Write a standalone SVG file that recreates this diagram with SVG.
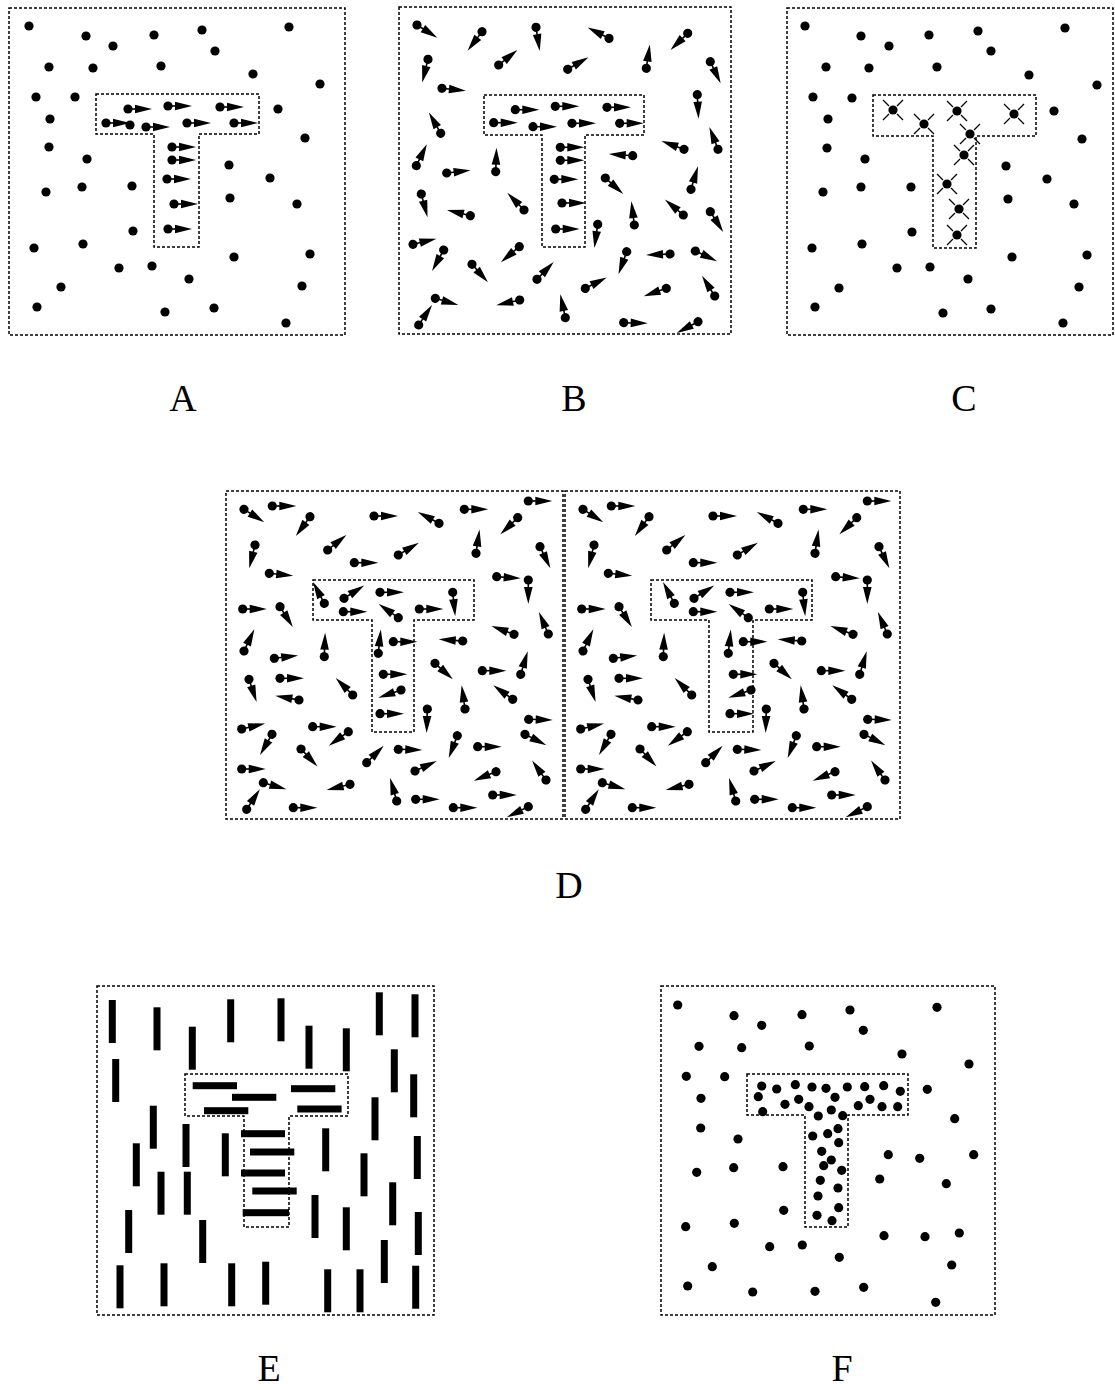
<svg xmlns="http://www.w3.org/2000/svg" width="1115" height="1390" viewBox="0 0 1115 1390">
<style>
.fr{fill:none;stroke:#000;stroke-width:1.5;stroke-dasharray:3 2}
.lb{font-family:"Liberation Serif","DejaVu Serif",serif;font-size:38px;text-anchor:middle;fill:#000}
.bar{fill:#000}
</style>
<defs>
<circle id="d" r="4.6" fill="#000"/>
<g id="ar"><circle r="4.6" fill="#000"/><line x1="0" y1="0" x2="9" y2="0" stroke="#000" stroke-width="1.6"/><polygon points="7,-4.3 24,0 7,4.3" fill="#000"/></g>
<g id="x"><circle r="4.6" fill="#000"/><path d="M4,-4L10,-10M-4,-4L-10,-10M4,4L10,10M-4,4L-10,10" stroke="#000" stroke-width="1.3"/></g>
</defs>
<rect width="1115" height="1390" fill="#fff"/>

<!-- Panel A -->
<g id="panelA">
<rect class="fr" x="9" y="8" width="336" height="327"/>
<path class="fr" d="M96,94H259V134H199V247H154V134H96Z"/>
<g>
<use href="#d" x="29" y="26"/><use href="#d" x="86" y="36"/><use href="#d" x="113" y="46"/><use href="#d" x="154" y="35"/><use href="#d" x="202" y="30"/><use href="#d" x="289" y="27"/><use href="#d" x="215" y="51"/><use href="#d" x="49" y="67"/><use href="#d" x="93" y="68"/><use href="#d" x="161" y="66"/><use href="#d" x="253" y="74"/><use href="#d" x="320" y="84"/><use href="#d" x="36" y="97"/><use href="#d" x="75" y="97"/><use href="#d" x="50" y="119"/><use href="#d" x="278" y="109"/><use href="#d" x="305" y="138"/><use href="#d" x="49" y="147"/><use href="#d" x="87" y="159"/><use href="#d" x="229" y="165"/><use href="#d" x="270" y="178"/><use href="#d" x="46" y="192"/><use href="#d" x="82" y="187"/><use href="#d" x="132" y="186"/><use href="#d" x="230" y="198"/><use href="#d" x="297" y="204"/><use href="#d" x="133" y="231"/><use href="#d" x="34" y="248"/><use href="#d" x="83" y="244"/><use href="#d" x="234" y="257"/><use href="#d" x="310" y="254"/><use href="#d" x="119" y="268"/><use href="#d" x="152" y="266"/><use href="#d" x="189" y="279"/><use href="#d" x="61" y="287"/><use href="#d" x="302" y="286"/><use href="#d" x="37" y="307"/><use href="#d" x="165" y="312"/><use href="#d" x="214" y="308"/><use href="#d" x="286" y="323"/>
<use href="#d" x="130" y="125"/>
<use href="#ar" x="128" y="109"/><use href="#ar" x="168" y="106"/><use href="#ar" x="220" y="107"/><use href="#ar" x="106" y="123"/><use href="#ar" x="146" y="127"/><use href="#ar" x="187" y="123"/><use href="#ar" x="234" y="123"/><use href="#ar" x="172" y="147"/><use href="#ar" x="172" y="160"/><use href="#ar" x="167" y="179"/><use href="#ar" x="174" y="204"/><use href="#ar" x="168" y="229"/>
</g>
<text class="lb" x="183" y="411">A</text>
</g>

<!-- Panel B -->
<g id="panelB">
<rect class="fr" x="399" y="7" width="332" height="327"/>
<path class="fr" d="M484,95H644V135H585V247H542V135H484Z"/>
<g>
<use href="#ar" transform="translate(417,25) rotate(32)"/>
<use href="#ar" transform="translate(482,31.7) rotate(127)"/>
<use href="#ar" transform="translate(536,27.3) rotate(81)"/>
<use href="#ar" transform="translate(609,38.3) rotate(-153)"/>
<use href="#ar" transform="translate(687.7,33.3) rotate(136)"/>
<use href="#ar" transform="translate(498.7,65) rotate(-39)"/>
<use href="#ar" transform="translate(567.7,69.3) rotate(-30)"/>
<use href="#ar" transform="translate(646.3,68.3) rotate(-81.5)"/>
<use href="#ar" transform="translate(710.3,61.7) rotate(64.5)"/>
<use href="#ar" transform="translate(428,59.3) rotate(104)"/>
<use href="#ar" transform="translate(442,88.3) rotate(6)"/>
<use href="#ar" transform="translate(697.3,94.7) rotate(87)"/>
<use href="#ar" transform="translate(440.7,133.3) rotate(-119.5)"/>
<use href="#ar" transform="translate(718,149.3) rotate(-111)"/>
<use href="#ar" transform="translate(684,149.3) rotate(-160)"/>
<use href="#ar" transform="translate(632.7,155.7) rotate(-176)"/>
<use href="#ar" transform="translate(416.3,165.7) rotate(-64)"/>
<use href="#ar" transform="translate(495.7,171.7) rotate(-88)"/>
<use href="#ar" transform="translate(446.7,173) rotate(-6.4)"/>
<use href="#ar" transform="translate(605.3,178) rotate(41.5)"/>
<use href="#ar" transform="translate(691,189.3) rotate(-73)"/>
<use href="#ar" transform="translate(421.3,194) rotate(75)"/>
<use href="#ar" transform="translate(524,210) rotate(-134)"/>
<use href="#ar" transform="translate(470.3,215.7) rotate(-166)"/>
<use href="#ar" transform="translate(634.3,225) rotate(-97)"/>
<use href="#ar" transform="translate(683.3,215) rotate(-140)"/>
<use href="#ar" transform="translate(710.3,211.7) rotate(57.6)"/>
<use href="#ar" transform="translate(597.7,224.3) rotate(98)"/>
<use href="#ar" transform="translate(413,244.3) rotate(-13.4)"/>
<use href="#ar" transform="translate(443.7,250) rotate(119)"/>
<use href="#ar" transform="translate(519.3,246.7) rotate(140)"/>
<use href="#ar" transform="translate(472,264.3) rotate(48.4)"/>
<use href="#ar" transform="translate(626.7,251.7) rotate(110)"/>
<use href="#ar" transform="translate(670,254) rotate(177.5)"/>
<use href="#ar" transform="translate(695.3,251) rotate(25)"/>
<use href="#ar" transform="translate(537,279.3) rotate(-46)"/>
<use href="#ar" transform="translate(585.3,288.3) rotate(-27)"/>
<use href="#ar" transform="translate(666.3,288.3) rotate(160.5)"/>
<use href="#ar" transform="translate(714.7,296) rotate(-122)"/>
<use href="#ar" transform="translate(435.3,298.3) rotate(16.4)"/>
<use href="#ar" transform="translate(519.7,300) rotate(167.4)"/>
<use href="#ar" transform="translate(565.3,317.7) rotate(-102)"/>
<use href="#ar" transform="translate(418.7,325) rotate(-56.3)"/>
<use href="#ar" transform="translate(623.7,322.7) rotate(1.6)"/>
<use href="#ar" transform="translate(698,321.7) rotate(152)"/>
<use href="#ar" x="515.3" y="109.7"/><use href="#ar" x="555.3" y="106.3"/><use href="#ar" x="607" y="107.3"/><use href="#ar" x="493.7" y="122.7"/><use href="#ar" x="533" y="126.7"/><use href="#ar" x="572" y="123.3"/><use href="#ar" x="619.7" y="123.3"/><use href="#ar" x="560.3" y="147.3"/><use href="#ar" x="560.3" y="160.3"/><use href="#ar" x="554.3" y="179.3"/><use href="#ar" x="562" y="203"/><use href="#ar" x="555.7" y="229"/>
</g>
<text class="lb" x="574" y="411">B</text>
</g>

<!-- Panel C -->
<g id="panelC">
<rect class="fr" x="787" y="8" width="326" height="327"/>
<path class="fr" d="M873,95H1036V136H976V248H933V136H873Z"/>
<g>
<use href="#d" x="805" y="26"/><use href="#d" x="861" y="36"/><use href="#d" x="889" y="46"/><use href="#d" x="929" y="35"/><use href="#d" x="978" y="31"/><use href="#d" x="1065" y="28"/><use href="#d" x="991" y="51"/><use href="#d" x="826" y="67"/><use href="#d" x="869" y="68"/><use href="#d" x="937" y="67"/><use href="#d" x="1029" y="75"/><use href="#d" x="1097" y="85"/><use href="#d" x="813" y="97"/><use href="#d" x="852" y="98"/><use href="#d" x="828" y="119"/><use href="#d" x="1054" y="111"/><use href="#d" x="1082" y="139"/><use href="#d" x="827" y="148"/><use href="#d" x="865" y="159"/><use href="#d" x="1006" y="166"/><use href="#d" x="1047" y="179"/><use href="#d" x="823" y="192"/><use href="#d" x="861" y="187"/><use href="#d" x="911" y="187"/><use href="#d" x="1008" y="199"/><use href="#d" x="1074" y="204"/><use href="#d" x="912" y="232"/><use href="#d" x="812" y="248"/><use href="#d" x="862" y="244"/><use href="#d" x="1012" y="257"/><use href="#d" x="1087" y="255"/><use href="#d" x="897" y="268"/><use href="#d" x="930" y="267"/><use href="#d" x="968" y="279"/><use href="#d" x="839" y="288"/><use href="#d" x="1079" y="287"/><use href="#d" x="815" y="307"/><use href="#d" x="943" y="313"/><use href="#d" x="991" y="309"/><use href="#d" x="1063" y="323"/>
<use href="#x" x="893" y="110"/><use href="#x" x="924" y="124"/><use href="#x" x="957" y="111"/><use href="#x" x="1014" y="114"/><use href="#x" x="970" y="134"/><use href="#x" x="964" y="155"/><use href="#x" x="947" y="184"/><use href="#x" x="959" y="209"/><use href="#x" x="957" y="235"/>
</g>
<text class="lb" x="964" y="411">C</text>
</g>

<!-- Panel D -->
<g id="panelD">
<rect class="fr" x="226" y="491" width="337" height="328"/>
<rect class="fr" x="565" y="491" width="335" height="328"/>
<path class="fr" d="M313,580H474V620H414V732H372V620H313Z"/>
<path class="fr" d="M651,580H812V620H753V732H709V620H651Z"/>
<g id="dout">
<use href="#ar" transform="translate(244,509.3) rotate(32.5)"/>
<use href="#ar" transform="translate(272.3,506) rotate(0)"/>
<use href="#ar" transform="translate(310,516.7) rotate(126)"/>
<use href="#ar" transform="translate(374,516) rotate(0)"/>
<use href="#ar" transform="translate(439,523.3) rotate(-152)"/>
<use href="#ar" transform="translate(464.3,509.3) rotate(0)"/>
<use href="#ar" transform="translate(517.7,517.7) rotate(136)"/>
<use href="#ar" transform="translate(528.3,501) rotate(0)"/>
<use href="#ar" transform="translate(255,545) rotate(104)"/>
<use href="#ar" transform="translate(327.7,550) rotate(-39)"/>
<use href="#ar" transform="translate(398.3,555) rotate(-31)"/>
<use href="#ar" transform="translate(476,553.3) rotate(-81.5)"/>
<use href="#ar" transform="translate(540,546.7) rotate(64.5)"/>
<use href="#ar" transform="translate(354.3,562.7) rotate(0)"/>
<use href="#ar" transform="translate(269.3,573.3) rotate(5.7)"/>
<use href="#ar" transform="translate(496.7,576.7) rotate(4)"/>
<use href="#ar" transform="translate(528.3,580) rotate(90)"/>
<use href="#ar" transform="translate(242.7,609) rotate(0)"/>
<use href="#ar" transform="translate(280,606.7) rotate(57.7)"/>
<use href="#ar" transform="translate(548.3,634) rotate(-113)"/>
<use href="#ar" transform="translate(514,634.3) rotate(-160)"/>
<use href="#ar" transform="translate(462.7,641) rotate(-176)"/>
<use href="#ar" transform="translate(244,651) rotate(-64.5)"/>
<use href="#ar" transform="translate(324.3,656.7) rotate(-88)"/>
<use href="#ar" transform="translate(274.3,658.3) rotate(-6.5)"/>
<use href="#ar" transform="translate(435,663.3) rotate(42)"/>
<use href="#ar" transform="translate(482.3,670.7) rotate(0)"/>
<use href="#ar" transform="translate(520.7,674.3) rotate(-73)"/>
<use href="#ar" transform="translate(249,679.3) rotate(71.6)"/>
<use href="#ar" transform="translate(280,678.3) rotate(0)"/>
<use href="#ar" transform="translate(352.7,695) rotate(-135)"/>
<use href="#ar" transform="translate(299,700) rotate(-169.5)"/>
<use href="#ar" transform="translate(465,709) rotate(-98)"/>
<use href="#ar" transform="translate(512.7,699.3) rotate(-144)"/>
<use href="#ar" transform="translate(427.3,709) rotate(91.6)"/>
<use href="#ar" transform="translate(241.7,729) rotate(-13)"/>
<use href="#ar" transform="translate(312.7,726.7) rotate(0)"/>
<use href="#ar" transform="translate(272,734.3) rotate(120)"/>
<use href="#ar" transform="translate(348.3,731.7) rotate(144)"/>
<use href="#ar" transform="translate(301,749) rotate(46.8)"/>
<use href="#ar" transform="translate(528.7,719.3) rotate(1.7)"/>
<use href="#ar" transform="translate(457.3,735.7) rotate(111)"/>
<use href="#ar" transform="translate(477.7,746.7) rotate(0)"/>
<use href="#ar" transform="translate(398.3,749.3) rotate(1.6)"/>
<use href="#ar" transform="translate(525,734.3) rotate(27)"/>
<use href="#ar" transform="translate(366.7,762.7) rotate(-45)"/>
<use href="#ar" transform="translate(415,771) rotate(-24.7)"/>
<use href="#ar" transform="translate(241.7,769) rotate(0)"/>
<use href="#ar" transform="translate(263.3,782.7) rotate(16)"/>
<use href="#ar" transform="translate(350,784.3) rotate(166)"/>
<use href="#ar" transform="translate(496,771.7) rotate(158)"/>
<use href="#ar" transform="translate(546,780) rotate(-125.6)"/>
<use href="#ar" transform="translate(396.7,801) rotate(-106)"/>
<use href="#ar" transform="translate(415.7,799.3) rotate(0)"/>
<use href="#ar" transform="translate(492.7,795) rotate(0)"/>
<use href="#ar" transform="translate(246.7,809.3) rotate(-56.8)"/>
<use href="#ar" transform="translate(293.3,807.7) rotate(0)"/>
<use href="#ar" transform="translate(453.3,807.7) rotate(0)"/>
<use href="#ar" transform="translate(528.3,806.7) rotate(154)"/>
</g>
<use href="#dout" transform="translate(339,0)"/>
<g id="dinL">
<use href="#ar" transform="translate(324.3,603.3) rotate(-118)"/>
<use href="#ar" transform="translate(344,598.3) rotate(-32.5)"/>
<use href="#ar" transform="translate(380,592.3) rotate(0)"/>
<use href="#ar" transform="translate(452.7,592.3) rotate(84)"/>
<use href="#ar" transform="translate(343.3,611.7) rotate(0)"/>
<use href="#ar" transform="translate(398.3,617.7) rotate(-145)"/>
<use href="#ar" transform="translate(419.3,609) rotate(0)"/>
<use href="#ar" transform="translate(378.3,653.3) rotate(-84)"/>
<use href="#ar" transform="translate(393.3,641.7) rotate(0)"/>
<use href="#ar" transform="translate(383.3,674.3) rotate(0)"/>
<use href="#ar" transform="translate(401,690) rotate(161)"/>
<use href="#ar" transform="translate(380,713.7) rotate(0)"/>
</g>
<use href="#dinL" transform="translate(350,0)"/>
<text class="lb" x="569" y="898">D</text>
</g>

<!-- Panel E -->
<g id="panelE">
<rect class="fr" x="97" y="986" width="337" height="329"/>
<path class="fr" d="M185,1074H348V1116H289V1227H244V1116H185Z"/>
<g class="bar">
<rect x="108.8" y="1000" width="7" height="43"/>
<rect x="153.5" y="1007.3" width="7" height="43"/>
<rect x="188.8" y="1026.7" width="7" height="43"/>
<rect x="227.2" y="999.3" width="7" height="43"/>
<rect x="277.5" y="998.3" width="7" height="43"/>
<rect x="305.5" y="1025.7" width="7" height="43"/>
<rect x="342.8" y="1028.3" width="7" height="43"/>
<rect x="375.8" y="992.3" width="7" height="43"/>
<rect x="411.5" y="994.3" width="7" height="43"/>
<rect x="112.2" y="1059" width="7" height="43"/>
<rect x="390.8" y="1049.3" width="7" height="43"/>
<rect x="410.2" y="1074.3" width="7" height="43"/>
<rect x="149.8" y="1105.7" width="7" height="43"/>
<rect x="182.5" y="1124" width="7" height="43"/>
<rect x="221.8" y="1133.3" width="7" height="43"/>
<rect x="371.5" y="1097.3" width="7" height="43"/>
<rect x="132.8" y="1143.3" width="7" height="43"/>
<rect x="322.2" y="1128.3" width="7" height="43"/>
<rect x="413.8" y="1136" width="7" height="43"/>
<rect x="157.5" y="1171.7" width="7" height="43"/>
<rect x="183.8" y="1171.7" width="7" height="43"/>
<rect x="360.5" y="1153.3" width="7" height="43"/>
<rect x="389.2" y="1182.3" width="7" height="43"/>
<rect x="125.2" y="1210" width="7" height="43"/>
<rect x="199.2" y="1220" width="7" height="43"/>
<rect x="311.5" y="1195" width="7" height="43"/>
<rect x="342.8" y="1207.3" width="7" height="43"/>
<rect x="414.8" y="1212" width="7" height="43"/>
<rect x="380.8" y="1240" width="7" height="43"/>
<rect x="116.5" y="1265.3" width="7" height="43"/>
<rect x="160.5" y="1263.3" width="7" height="43"/>
<rect x="228.2" y="1263.3" width="7" height="43"/>
<rect x="262.2" y="1261.7" width="7" height="43"/>
<rect x="324.2" y="1269.3" width="7" height="43"/>
<rect x="356.5" y="1269.3" width="7" height="43"/>
<rect x="412.2" y="1265.7" width="7" height="43"/>
<rect x="192.7" y="1082.2" width="44.3" height="7"/>
<rect x="291" y="1085.2" width="44.3" height="7"/>
<rect x="232" y="1093.8" width="44.3" height="7"/>
<rect x="204" y="1107.2" width="44.3" height="7"/>
<rect x="297.3" y="1105.5" width="44.3" height="7"/>
<rect x="241" y="1130.2" width="44" height="7"/>
<rect x="250" y="1148.5" width="44.3" height="7"/>
<rect x="241" y="1169.5" width="44" height="7"/>
<rect x="252.3" y="1187.5" width="44.4" height="7"/>
<rect x="242.7" y="1209.2" width="46.3" height="7"/>
</g>
<text class="lb" x="269" y="1381">E</text>
</g>

<!-- Panel F -->
<g id="panelF">
<rect class="fr" x="661" y="986" width="334" height="329"/>
<path class="fr" d="M747,1074H908V1115H848V1227H805V1115H747Z"/>
<g>
<use href="#d" x="677.7" y="1005"/><use href="#d" x="734" y="1015.7"/><use href="#d" x="761.7" y="1025.3"/><use href="#d" x="802" y="1014.7"/><use href="#d" x="850" y="1010"/><use href="#d" x="937" y="1007.3"/><use href="#d" x="863.3" y="1030.3"/><use href="#d" x="699" y="1046.3"/><use href="#d" x="741.7" y="1047.7"/><use href="#d" x="809.3" y="1046"/><use href="#d" x="902" y="1054"/><use href="#d" x="969" y="1064"/><use href="#d" x="686.3" y="1076.3"/><use href="#d" x="724.7" y="1076.7"/><use href="#d" x="701" y="1098.3"/><use href="#d" x="927.3" y="1089.3"/><use href="#d" x="954.7" y="1118.7"/><use href="#d" x="700.7" y="1128"/><use href="#d" x="738" y="1139"/><use href="#d" x="888.3" y="1154.7"/><use href="#d" x="919.7" y="1158.3"/><use href="#d" x="973.7" y="1154.7"/><use href="#d" x="696.7" y="1172.3"/><use href="#d" x="733.7" y="1167.7"/><use href="#d" x="783" y="1166.7"/><use href="#d" x="879.7" y="1179"/><use href="#d" x="946.3" y="1183.7"/><use href="#d" x="783.7" y="1210.3"/><use href="#d" x="685.7" y="1226.7"/><use href="#d" x="734.3" y="1223.3"/><use href="#d" x="884" y="1235.7"/><use href="#d" x="925" y="1236.7"/><use href="#d" x="959.3" y="1233"/><use href="#d" x="769.7" y="1246.7"/><use href="#d" x="802.3" y="1245"/><use href="#d" x="839.3" y="1257.3"/><use href="#d" x="712.3" y="1266.7"/><use href="#d" x="951.7" y="1265"/><use href="#d" x="687.7" y="1286"/><use href="#d" x="752.7" y="1292"/><use href="#d" x="815" y="1291.3"/><use href="#d" x="863.7" y="1287.3"/><use href="#d" x="935.7" y="1302.3"/>
<use href="#d" x="761.7" y="1086"/><use href="#d" x="776.7" y="1089"/><use href="#d" x="795.3" y="1084.7"/><use href="#d" x="812" y="1087"/><use href="#d" x="826" y="1088.3"/><use href="#d" x="847.3" y="1087"/><use href="#d" x="864.7" y="1086.7"/><use href="#d" x="883.7" y="1085.7"/><use href="#d" x="900.3" y="1091.3"/><use href="#d" x="758.3" y="1096.7"/><use href="#d" x="785" y="1104.3"/><use href="#d" x="798.7" y="1099.3"/><use href="#d" x="809" y="1106.7"/><use href="#d" x="835" y="1097.3"/><use href="#d" x="858.3" y="1105.7"/><use href="#d" x="870" y="1099.3"/><use href="#d" x="882" y="1106.7"/><use href="#d" x="897.7" y="1106.7"/><use href="#d" x="762.7" y="1111.7"/><use href="#d" x="818.3" y="1116"/><use href="#d" x="831.3" y="1110"/><use href="#d" x="842.7" y="1115.7"/><use href="#d" x="838" y="1128.7"/><use href="#d" x="812.7" y="1136"/><use href="#d" x="827.7" y="1133.7"/><use href="#d" x="838.7" y="1142.7"/><use href="#d" x="821.7" y="1151.3"/><use href="#d" x="831.3" y="1160"/><use href="#d" x="823.7" y="1165.7"/><use href="#d" x="841.7" y="1170.3"/><use href="#d" x="820.3" y="1180.3"/><use href="#d" x="838" y="1188"/><use href="#d" x="818" y="1196"/><use href="#d" x="838.7" y="1207.7"/><use href="#d" x="817" y="1215.3"/><use href="#d" x="832" y="1220.7"/>
</g>
<text class="lb" x="842" y="1381">F</text>
</g>
</svg>
